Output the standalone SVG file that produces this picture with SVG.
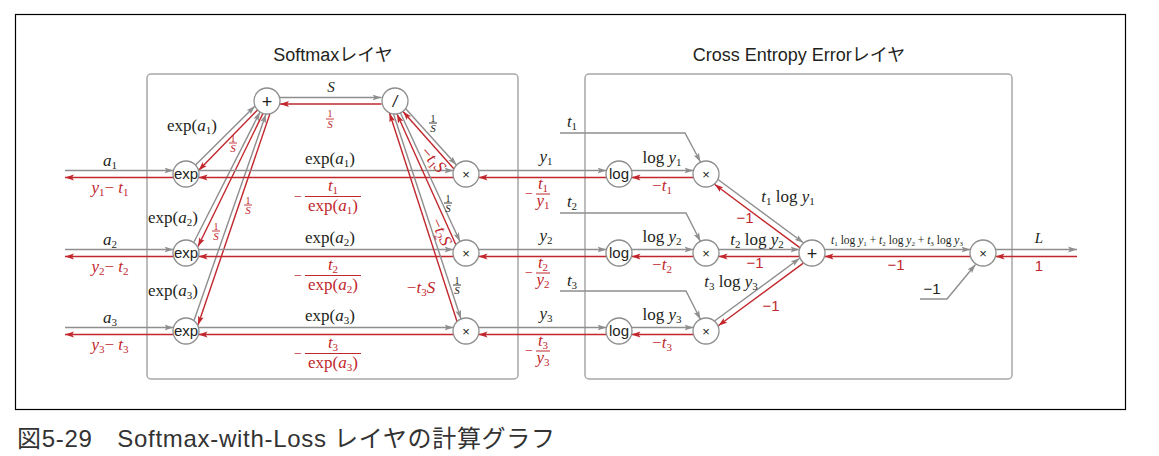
<svg xmlns="http://www.w3.org/2000/svg" width="1159" height="456" viewBox="0 0 1159 456">
<defs>
<marker id="ag" markerUnits="userSpaceOnUse" markerWidth="9" markerHeight="7" refX="9" refY="3.5" orient="auto" viewBox="0 0 9 7"><path d="M0,0.6 L9,3.5 L0,6.4 L2,3.5 z" fill="#8e8e8e"/></marker>
<marker id="ar" markerUnits="userSpaceOnUse" markerWidth="9" markerHeight="7" refX="9" refY="3.5" orient="auto" viewBox="0 0 9 7"><path d="M0,0.6 L9,3.5 L0,6.4 L2,3.5 z" fill="#c1272d"/></marker>
<style>
.g{stroke:#8e8e8e;stroke-width:1.4;fill:none;marker-end:url(#ag)}
.r{stroke:#c1272d;stroke-width:1.4;fill:none;marker-end:url(#ar)}
.box{fill:none;stroke:#a8a8a8;stroke-width:1.5}
.nd circle{fill:#fff;stroke:#8e8e8e;stroke-width:1.3}
.nl{font-family:"Liberation Sans",Arial,sans-serif;font-size:15px;fill:#231f20;text-anchor:middle}
.op{font-size:18px}
.mu{font-size:13px}
.dv{font-size:16px;font-style:italic}
.ttl{font-family:"Liberation Sans",Arial,"Noto Sans CJK JP",sans-serif;font-size:18px;fill:#231f20;text-anchor:middle}
.m{font-family:"Liberation Serif","Times New Roman",serif;font-size:17px;fill:#231f20}
.mr{font-family:"Liberation Serif","Times New Roman",serif;font-size:17px;fill:#c1272d}
.c{text-anchor:middle}
.i{font-style:italic}
.sb{font-size:11px}
.mn{font-size:14px}
.v15{font-size:15px}
.fs{font-family:"Liberation Serif","Times New Roman",serif;font-size:10px;text-anchor:middle}
.fS{font-size:11px}
.k{fill:#231f20}
.rd{fill:#c1272d}
.num{font-family:"Liberation Sans",Arial,sans-serif;font-size:15px;text-anchor:middle}
.fb{stroke-width:0.9}
.sum{font-size:11.5px}
.ss{font-size:7px}
.cap{font-family:"Liberation Sans",Arial,"Noto Sans CJK JP",sans-serif;font-size:24px;fill:#333}
</style>
</defs>
<rect x="15.5" y="14.5" width="1110" height="395" fill="#fff" stroke="#000" stroke-width="1.2"/>
<rect class="box" x="147" y="74" width="371" height="305" rx="4"/>
<rect class="box" x="585" y="74" width="427" height="305" rx="4"/>
<text class="ttl" x="333" y="61">Softmaxレイヤ</text>
<text class="ttl" x="799" y="61">Cross Entropy Errorレイヤ</text>

<g id="connectors">
<line class="g" x1="65" y1="170.5" x2="173.5" y2="170.5"/>
<line class="r" x1="173.5" y1="177.5" x2="65" y2="177.5"/>
<line class="g" x1="65" y1="249.5" x2="173.5" y2="249.5"/>
<line class="r" x1="173.5" y1="256.5" x2="65" y2="256.5"/>
<line class="g" x1="65" y1="327.5" x2="173.5" y2="327.5"/>
<line class="r" x1="173.5" y1="334.5" x2="65" y2="334.5"/>
<line class="g" x1="195.5" y1="165" x2="255" y2="106"/>
<line class="r" x1="257.5" y1="110" x2="198.5" y2="170.5"/>
<line class="g" x1="194" y1="242" x2="260" y2="112"/>
<line class="r" x1="263" y1="113.4" x2="198" y2="246.5"/>
<line class="g" x1="194" y1="320.5" x2="266" y2="114"/>
<line class="r" x1="270" y1="113.6" x2="198" y2="325"/>
<line class="g" x1="280" y1="97.5" x2="381.5" y2="97.5"/>
<line class="r" x1="381.5" y1="104" x2="280" y2="104"/>
<line class="g" x1="198.5" y1="170.5" x2="453.5" y2="170.5"/>
<line class="r" x1="453.5" y1="177.5" x2="198.5" y2="177.5"/>
<line class="g" x1="198.5" y1="249.5" x2="453.5" y2="249.5"/>
<line class="r" x1="453.5" y1="256.5" x2="198.5" y2="256.5"/>
<line class="g" x1="198.5" y1="327.5" x2="453.5" y2="327.5"/>
<line class="r" x1="453.5" y1="334.5" x2="198.5" y2="334.5"/>
<line class="g" x1="405.5" y1="108.5" x2="456.5" y2="165"/>
<line class="r" x1="454" y1="169" x2="403" y2="111.5"/>
<line class="g" x1="400.5" y1="113" x2="460" y2="241.5"/>
<line class="r" x1="456" y1="245" x2="397" y2="114"/>
<line class="g" x1="393.5" y1="114" x2="461" y2="319"/>
<line class="r" x1="457" y1="321.5" x2="389.5" y2="113"/>
<line class="g" x1="478.5" y1="170.5" x2="606.5" y2="170.5"/>
<line class="r" x1="606.5" y1="177.5" x2="478.5" y2="177.5"/>
<line class="g" x1="478.5" y1="249.5" x2="606.5" y2="249.5"/>
<line class="r" x1="606.5" y1="256.5" x2="478.5" y2="256.5"/>
<line class="g" x1="478.5" y1="327.5" x2="606.5" y2="327.5"/>
<line class="r" x1="606.5" y1="334.5" x2="478.5" y2="334.5"/>
<line class="g" x1="631.5" y1="170.5" x2="693.5" y2="170.5"/>
<line class="r" x1="693.5" y1="177.5" x2="631.5" y2="177.5"/>
<line class="g" x1="631.5" y1="249.5" x2="693.5" y2="249.5"/>
<line class="r" x1="693.5" y1="256.5" x2="631.5" y2="256.5"/>
<line class="g" x1="631.5" y1="327.5" x2="693.5" y2="327.5"/>
<line class="r" x1="693.5" y1="334.5" x2="631.5" y2="334.5"/>
<polyline class="g" points="560,133 685,133 700.5,162"/>
<polyline class="g" points="560,213 686,213 700.5,241.5"/>
<polyline class="g" points="560,291 686,291 700.5,319.5"/>
<line class="g" x1="718" y1="179.5" x2="803.4" y2="242.8"/>
<line class="r" x1="799.8" y1="247.6" x2="714.5" y2="184.3"/>
<line class="g" x1="718.5" y1="249.5" x2="799.5" y2="249.5"/>
<line class="r" x1="799.5" y1="256.5" x2="718.5" y2="256.5"/>
<line class="g" x1="714.5" y1="321" x2="799.7" y2="258.3"/>
<line class="r" x1="803.3" y1="263.1" x2="718.3" y2="325.7"/>
<line class="g" x1="824.5" y1="249.5" x2="970.5" y2="249.5"/>
<line class="r" x1="970.5" y1="256.5" x2="824.5" y2="256.5"/>
<line class="g" x1="995.5" y1="249.5" x2="1077" y2="249.5"/>
<line class="r" x1="1077" y1="256.5" x2="995.5" y2="256.5"/>
<polyline class="g" points="920,299 947,299 975.5,264.5"/>
</g>

<g id="plus1" class="nd"><circle cx="267" cy="101" r="13"/><text class="nl op" x="267" y="107.5">+</text></g>
<g id="div" class="nd"><circle cx="395" cy="101" r="13"/><text class="nl dv" x="395" y="107">/</text></g>
<g id="exp1" class="nd"><circle cx="186" cy="174" r="13"/><text class="nl" x="186" y="179">exp</text></g>
<g id="exp2" class="nd"><circle cx="186" cy="253" r="13"/><text class="nl" x="186" y="258">exp</text></g>
<g id="exp3" class="nd"><circle cx="186" cy="331" r="13"/><text class="nl" x="186" y="336">exp</text></g>
<g id="mul1" class="nd"><circle cx="466" cy="174" r="13"/><text class="nl mu" x="466" y="178.5">×</text></g>
<g id="mul2" class="nd"><circle cx="466" cy="253" r="13"/><text class="nl mu" x="466" y="257.5">×</text></g>
<g id="mul3" class="nd"><circle cx="466" cy="331" r="13"/><text class="nl mu" x="466" y="335.5">×</text></g>
<g id="log1" class="nd"><circle cx="619" cy="174" r="13"/><text class="nl" x="619" y="179">log</text></g>
<g id="log2" class="nd"><circle cx="619" cy="253" r="13"/><text class="nl" x="619" y="258">log</text></g>
<g id="log3" class="nd"><circle cx="619" cy="331" r="13"/><text class="nl" x="619" y="336">log</text></g>
<g id="mulA" class="nd"><circle cx="706" cy="174" r="13"/><text class="nl mu" x="706" y="178.5">×</text></g>
<g id="mulB" class="nd"><circle cx="706" cy="253" r="13"/><text class="nl mu" x="706" y="257.5">×</text></g>
<g id="mulC" class="nd"><circle cx="706" cy="331" r="13"/><text class="nl mu" x="706" y="335.5">×</text></g>
<g id="plus2" class="nd"><circle cx="812" cy="253" r="13"/><text class="nl op" x="812" y="259.5">+</text></g>
<g id="mulF" class="nd"><circle cx="983" cy="253" r="13"/><text class="nl mu" x="983" y="257.5">×</text></g>

<g id="labels">
<text class="m c i v15" x="331" y="92">S</text>
<text class="fs rd" x="330" y="117">1</text><line x1="326" y1="119" x2="334" y2="119" stroke="#c1272d" class="fb"/><text class="fs rd i fS" x="330" y="128">S</text>
<text class="m" x="167" y="131">exp(<tspan class="i">a</tspan><tspan class="sb" dy="3">1</tspan><tspan dy="-3">)</tspan></text>
<text class="m" x="148" y="223">exp(<tspan class="i">a</tspan><tspan class="sb" dy="3">2</tspan><tspan dy="-3">)</tspan></text>
<text class="m" x="148" y="296">exp(<tspan class="i">a</tspan><tspan class="sb" dy="3">3</tspan><tspan dy="-3">)</tspan></text>
<text class="fs rd" x="233" y="141.5">1</text><line x1="229" y1="143" x2="237" y2="143" stroke="#c1272d" class="fb"/><text class="fs rd i fS" x="233" y="152">S</text>
<text class="fs rd" x="216" y="229.5">1</text><line x1="212" y1="231" x2="220" y2="231" stroke="#c1272d" class="fb"/><text class="fs rd i fS" x="216" y="240">S</text>
<text class="fs rd" x="248" y="203.5">1</text><line x1="244" y1="205" x2="252" y2="205" stroke="#c1272d" class="fb"/><text class="fs rd i fS" x="248" y="214">S</text>
<text class="m c" x="110" y="166"><tspan class="i">a</tspan><tspan class="sb" dy="3">1</tspan></text>
<text class="m c" x="110" y="245"><tspan class="i">a</tspan><tspan class="sb" dy="3">2</tspan></text>
<text class="m c" x="110" y="323"><tspan class="i">a</tspan><tspan class="sb" dy="3">3</tspan></text>
<text class="mr c" x="110" y="193"><tspan class="i">y</tspan><tspan class="sb" dy="3">1</tspan><tspan dy="-3">− </tspan><tspan class="i">t</tspan><tspan class="sb" dy="3">1</tspan></text>
<text class="mr c" x="110" y="272"><tspan class="i">y</tspan><tspan class="sb" dy="3">2</tspan><tspan dy="-3">− </tspan><tspan class="i">t</tspan><tspan class="sb" dy="3">2</tspan></text>
<text class="mr c" x="110" y="350"><tspan class="i">y</tspan><tspan class="sb" dy="3">3</tspan><tspan dy="-3">− </tspan><tspan class="i">t</tspan><tspan class="sb" dy="3">3</tspan></text>
<text class="m c" x="330" y="164">exp(<tspan class="i">a</tspan><tspan class="sb" dy="3">1</tspan><tspan dy="-3">)</tspan></text>
<text class="m c" x="330" y="243">exp(<tspan class="i">a</tspan><tspan class="sb" dy="3">2</tspan><tspan dy="-3">)</tspan></text>
<text class="m c" x="330" y="321">exp(<tspan class="i">a</tspan><tspan class="sb" dy="3">3</tspan><tspan dy="-3">)</tspan></text>
<text class="mr c mn" x="298" y="201">−</text>
<text class="mr c" x="333" y="191"><tspan class="i">t</tspan><tspan class="sb" dy="2.5">1</tspan></text>
<line x1="305" y1="196.5" x2="361" y2="196.5" stroke="#c1272d" stroke-width="1"/>
<text class="mr c" x="333" y="211">exp(<tspan class="i">a</tspan><tspan class="sb" dy="3">1</tspan><tspan dy="-3">)</tspan></text>
<text class="mr c mn" x="298" y="280">−</text>
<text class="mr c" x="333" y="270"><tspan class="i">t</tspan><tspan class="sb" dy="2.5">2</tspan></text>
<line x1="305" y1="275.5" x2="361" y2="275.5" stroke="#c1272d" stroke-width="1"/>
<text class="mr c" x="333" y="290">exp(<tspan class="i">a</tspan><tspan class="sb" dy="3">2</tspan><tspan dy="-3">)</tspan></text>
<text class="mr c mn" x="298" y="358">−</text>
<text class="mr c" x="333" y="348"><tspan class="i">t</tspan><tspan class="sb" dy="2.5">3</tspan></text>
<line x1="305" y1="353.5" x2="361" y2="353.5" stroke="#c1272d" stroke-width="1"/>
<text class="mr c" x="333" y="368">exp(<tspan class="i">a</tspan><tspan class="sb" dy="3">3</tspan><tspan dy="-3">)</tspan></text>
<text class="fs k" x="433" y="121.5">1</text><line x1="429" y1="123" x2="437" y2="123" stroke="#231f20" class="fb"/><text class="fs k i fS" x="433" y="132">S</text>
<text class="fs k" x="448" y="201.5">1</text><line x1="444" y1="203" x2="452" y2="203" stroke="#231f20" class="fb"/><text class="fs k i fS" x="448" y="212">S</text>
<text class="fs k" x="457" y="283.5">1</text><line x1="453" y1="285" x2="461" y2="285" stroke="#231f20" class="fb"/><text class="fs k i fS" x="457" y="294">S</text>
<text class="mr c" transform="translate(433,160) rotate(48)" y="5">−<tspan class="i">t</tspan><tspan class="sb" dy="3">1</tspan><tspan class="i" dy="-3">S</tspan></text>
<text class="mr c" transform="translate(441,232) rotate(65)" y="5">−<tspan class="i">t</tspan><tspan class="sb" dy="3">2</tspan><tspan class="i" dy="-3">S</tspan></text>
<text class="mr c" x="421" y="293">−<tspan class="i">t</tspan><tspan class="sb" dy="3">3</tspan><tspan class="i" dy="-3">S</tspan></text>
<text class="m c" x="546" y="162"><tspan class="i">y</tspan><tspan class="sb" dy="3">1</tspan></text>
<text class="m c" x="546" y="241"><tspan class="i">y</tspan><tspan class="sb" dy="3">2</tspan></text>
<text class="m c" x="546" y="319"><tspan class="i">y</tspan><tspan class="sb" dy="3">3</tspan></text>
<text class="mr c mn" x="529" y="198">−</text>
<text class="mr c" x="543" y="189"><tspan class="i">t</tspan><tspan class="sb" dy="2.5">1</tspan></text>
<line x1="536" y1="194" x2="550" y2="194" stroke="#c1272d" stroke-width="1"/>
<text class="mr c" x="543" y="206"><tspan class="i">y</tspan><tspan class="sb" dy="3">1</tspan></text>
<text class="mr c mn" x="529" y="277">−</text>
<text class="mr c" x="543" y="268"><tspan class="i">t</tspan><tspan class="sb" dy="2.5">2</tspan></text>
<line x1="536" y1="273" x2="550" y2="273" stroke="#c1272d" stroke-width="1"/>
<text class="mr c" x="543" y="285"><tspan class="i">y</tspan><tspan class="sb" dy="3">2</tspan></text>
<text class="mr c mn" x="529" y="355">−</text>
<text class="mr c" x="543" y="346"><tspan class="i">t</tspan><tspan class="sb" dy="2.5">3</tspan></text>
<line x1="536" y1="351" x2="550" y2="351" stroke="#c1272d" stroke-width="1"/>
<text class="mr c" x="543" y="363"><tspan class="i">y</tspan><tspan class="sb" dy="3">3</tspan></text>
<text class="m c" x="572" y="127"><tspan class="i">t</tspan><tspan class="sb" dy="3">1</tspan></text>
<text class="m c" x="572" y="207"><tspan class="i">t</tspan><tspan class="sb" dy="3">2</tspan></text>
<text class="m c" x="572" y="286"><tspan class="i">t</tspan><tspan class="sb" dy="3">3</tspan></text>
<text class="m c" x="662" y="163">log  <tspan class="i">y</tspan><tspan class="sb" dy="3">1</tspan></text>
<text class="m c" x="662" y="242">log  <tspan class="i">y</tspan><tspan class="sb" dy="3">2</tspan></text>
<text class="m c" x="662" y="320">log  <tspan class="i">y</tspan><tspan class="sb" dy="3">3</tspan></text>
<text class="mr c" x="662" y="191">−<tspan class="i">t</tspan><tspan class="sb" dy="3">1</tspan></text>
<text class="mr c" x="662" y="270">−<tspan class="i">t</tspan><tspan class="sb" dy="3">2</tspan></text>
<text class="mr c" x="662" y="348">−<tspan class="i">t</tspan><tspan class="sb" dy="3">3</tspan></text>
<text class="m c" x="788" y="202"><tspan class="i">t</tspan><tspan class="sb" dy="3">1</tspan><tspan dy="-3"> log  </tspan><tspan class="i">y</tspan><tspan class="sb" dy="3">1</tspan></text>
<text class="m c" x="757" y="245"><tspan class="i">t</tspan><tspan class="sb" dy="3">2</tspan><tspan dy="-3"> log  </tspan><tspan class="i">y</tspan><tspan class="sb" dy="3">2</tspan></text>
<text class="m c" x="731" y="287"><tspan class="i">t</tspan><tspan class="sb" dy="3">3</tspan><tspan dy="-3"> log  </tspan><tspan class="i">y</tspan><tspan class="sb" dy="3">3</tspan></text>
<text class="num rd" x="745" y="223">−1</text>
<text class="num rd" x="755" y="268">−1</text>
<text class="num rd" x="771" y="311">−1</text>
<text class="m c sum" x="897" y="244"><tspan class="i">t</tspan><tspan class="ss" dy="1.5">1</tspan><tspan dy="-1.5"> log </tspan><tspan class="i">y</tspan><tspan class="ss" dy="1.5">1</tspan><tspan dy="-1.5"> + </tspan><tspan class="i">t</tspan><tspan class="ss" dy="1.5">2</tspan><tspan dy="-1.5"> log </tspan><tspan class="i">y</tspan><tspan class="ss" dy="1.5">2</tspan><tspan dy="-1.5"> + </tspan><tspan class="i">t</tspan><tspan class="ss" dy="1.5">3</tspan><tspan dy="-1.5"> log </tspan><tspan class="i">y</tspan><tspan class="ss" dy="1.5">3</tspan></text>
<text class="num rd" x="896" y="270">−1</text>
<text class="m c i v15" x="1039" y="243">L</text>
<text class="num rd" x="1039" y="271">1</text>
<text class="num k" x="932" y="294">−1</text>
</g>
<text class="cap" x="17" y="447" textLength="538" lengthAdjust="spacing">図5-29　Softmax-with-Loss レイヤの計算グラフ</text>
</svg>
